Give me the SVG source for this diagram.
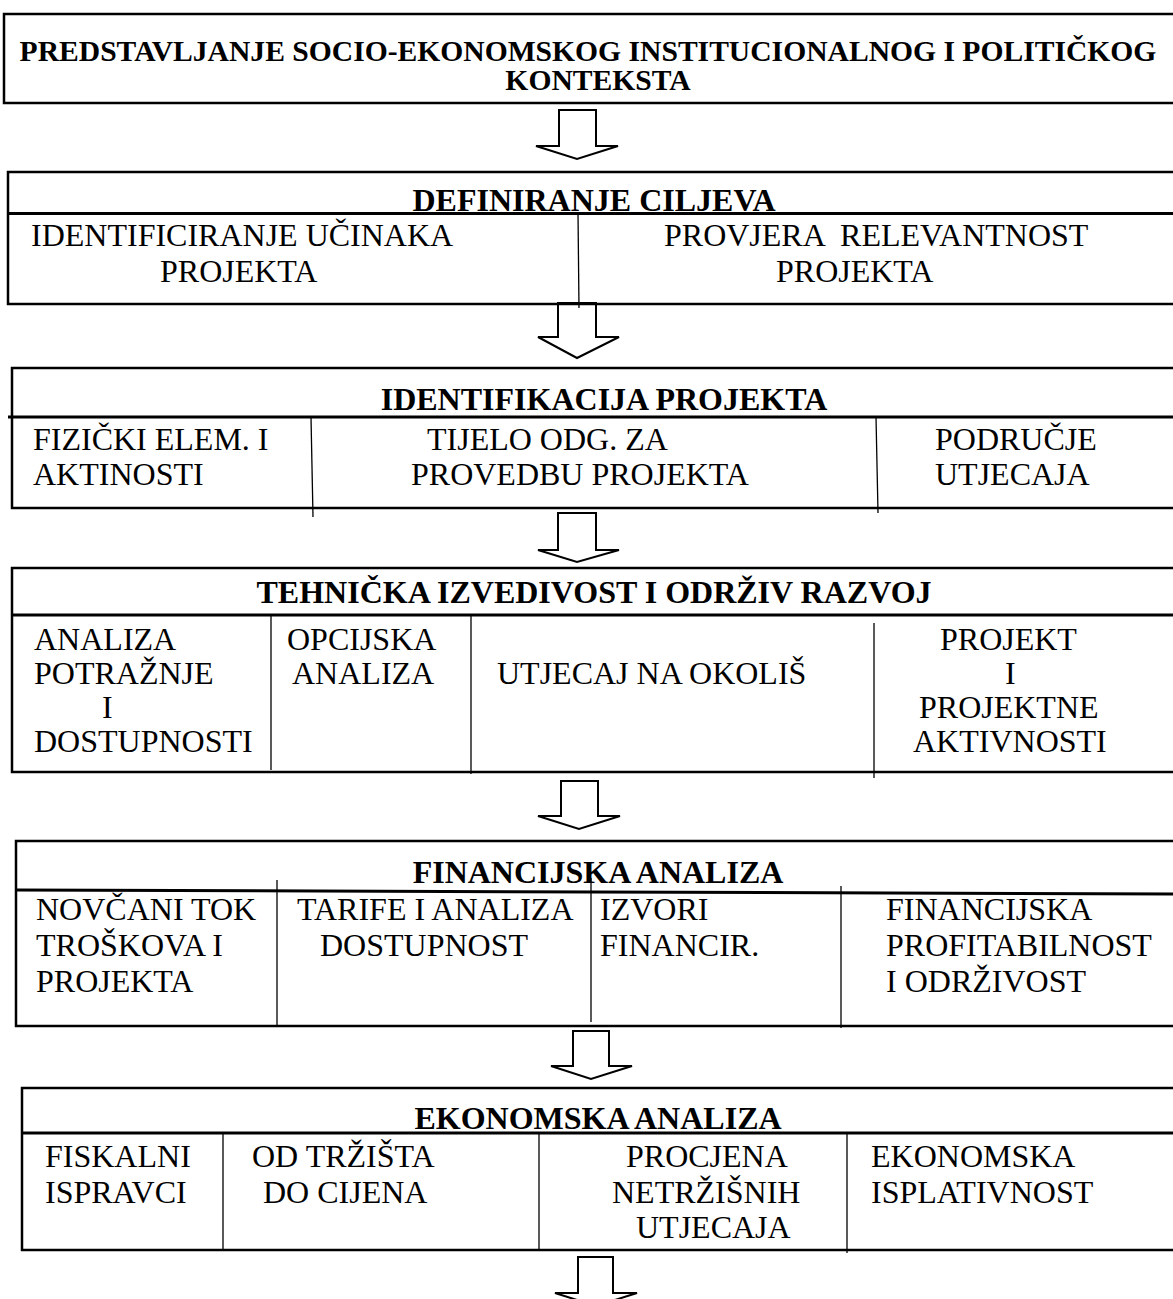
<svg xmlns="http://www.w3.org/2000/svg" width="1173" height="1299" viewBox="0 0 1173 1299">
<style>
.box{fill:none;stroke:#000;stroke-width:2.5}
.div{stroke:#000;stroke-width:3}
.vd{stroke:#000;stroke-width:1.3}
.arr{fill:#fff;stroke:#000;stroke-width:2;stroke-linejoin:miter}
text{font-family:"Liberation Serif","Times New Roman",serif;fill:#000}
.t{font-size:32px;white-space:pre}
.h{font-size:32px;font-weight:bold;text-anchor:middle}
.ti{font-size:29.6px;font-weight:bold;text-anchor:middle}
</style>
<rect width="1173" height="1299" fill="#fff"/>
<g id="connectors">
<polygon class="arr" points="559,110 596,110 596,146 618,146 577,159 536,146 559,146"/>
<polygon class="arr" points="558,303 596,303 596,337 619,337 577,358 538,337 558,337"/>
<polygon class="arr" points="558,513 596,513 596,550 619,550 577,562 538,550 558,550"/>
<polygon class="arr" points="561,781 598,781 598,816 620,816 579,829 538,816 561,816"/>
<polygon class="arr" points="573,1031 609,1031 609,1066 632,1066 591,1079 551,1066 573,1066"/>
<polygon class="arr" points="578,1257 613,1257 613,1293 637,1293 596,1306 555,1293 578,1293"/>
</g>
<g id="n1">
<rect class="box" x="4" y="14" width="1180" height="89"/>
<text class="ti" x="588" y="61">PREDSTAVLJANJE SOCIO-EKONOMSKOG INSTITUCIONALNOG I POLITIČKOG</text>
<text class="ti" x="598" y="90">KONTEKSTA</text>
</g>
<g id="n2">
<rect class="box" x="8" y="172" width="1180" height="132"/>
<text class="h" x="594" y="211">DEFINIRANJE CILJEVA</text>
<line class="div" x1="8" y1="213.5" x2="1173" y2="213.5"/>
<line class="vd" x1="578" y1="213" x2="579" y2="308"/>
<text class="t" x="31" y="246">IDENTIFICIRANJE UČINAKA</text>
<text class="t" x="160" y="282">PROJEKTA</text>
<text class="t" x="664" y="246">PROVJERA  RELEVANTNOST</text>
<text class="t" x="776" y="282">PROJEKTA</text>
</g>
<g id="n3">
<rect class="box" x="12" y="368" width="1180" height="140"/>
<text class="h" x="604" y="410">IDENTIFIKACIJA PROJEKTA</text>
<line class="div" x1="8" y1="417" x2="1173" y2="417"/>
<line class="vd" x1="311" y1="417" x2="313" y2="517"/>
<line class="vd" x1="876" y1="417" x2="878" y2="513"/>
<text class="t" x="33" y="450">FIZIČKI ELEM. I</text>
<text class="t" x="33" y="485">AKTINOSTI</text>
<text class="t" x="427" y="450">TIJELO ODG. ZA</text>
<text class="t" x="411" y="485">PROVEDBU PROJEKTA</text>
<text class="t" x="935" y="450">PODRUČJE</text>
<text class="t" x="935" y="485">UTJECAJA</text>
</g>
<g id="n4">
<rect class="box" x="12" y="568" width="1180" height="204"/>
<text class="h" x="594" y="603">TEHNIČKA IZVEDIVOST I ODRŽIV RAZVOJ</text>
<line class="div" x1="12" y1="615" x2="1173" y2="615"/>
<line class="vd" x1="271" y1="615" x2="271" y2="770"/>
<line class="vd" x1="471" y1="615" x2="471" y2="774"/>
<line class="vd" x1="874" y1="623" x2="874" y2="778"/>
<text class="t" x="34" y="650">ANALIZA</text>
<text class="t" x="34" y="684">POTRAŽNJE</text>
<text class="t" x="102" y="718">I</text>
<text class="t" x="34" y="752">DOSTUPNOSTI</text>
<text class="t" x="287" y="650">OPCIJSKA</text>
<text class="t" x="292" y="684">ANALIZA</text>
<text class="t" x="497" y="684">UTJECAJ NA OKOLIŠ</text>
<text class="t" x="940" y="650">PROJEKT</text>
<text class="t" x="1005" y="684">I</text>
<text class="t" x="919" y="718">PROJEKTNE</text>
<text class="t" x="913" y="752">AKTIVNOSTI</text>
</g>
<g id="n5">
<rect class="box" x="16" y="841" width="1180" height="185"/>
<text class="h" x="598" y="883">FINANCIJSKA ANALIZA</text>
<line class="div" x1="16" y1="890" x2="1173" y2="894"/>
<line class="vd" x1="277" y1="880" x2="277" y2="1026"/>
<line class="vd" x1="591" y1="878" x2="591" y2="1022"/>
<line class="vd" x1="841" y1="886" x2="841" y2="1028"/>
<text class="t" x="36" y="920">NOVČANI TOK</text>
<text class="t" x="36" y="956">TROŠKOVA I</text>
<text class="t" x="36" y="992">PROJEKTA</text>
<text class="t" x="297" y="920">TARIFE I ANALIZA</text>
<text class="t" x="320" y="956">DOSTUPNOST</text>
<text class="t" x="600" y="920">IZVORI</text>
<text class="t" x="600" y="956">FINANCIR.</text>
<text class="t" x="886" y="920">FINANCIJSKA</text>
<text class="t" x="886" y="956">PROFITABILNOST</text>
<text class="t" x="886" y="992">I ODRŽIVOST</text>
</g>
<g id="n6">
<rect class="box" x="22" y="1088" width="1180" height="162"/>
<text class="h" x="598" y="1129">EKONOMSKA ANALIZA</text>
<line class="div" x1="22" y1="1133" x2="1173" y2="1133"/>
<line class="vd" x1="223" y1="1133" x2="223" y2="1250"/>
<line class="vd" x1="539" y1="1133" x2="539" y2="1250"/>
<line class="vd" x1="847" y1="1133" x2="847" y2="1253"/>
<text class="t" x="45" y="1167">FISKALNI</text>
<text class="t" x="45" y="1203">ISPRAVCI</text>
<text class="t" x="252" y="1167">OD TRŽIŠTA</text>
<text class="t" x="263" y="1203">DO CIJENA</text>
<text class="t" x="626" y="1167">PROCJENA</text>
<text class="t" x="612" y="1203">NETRŽIŠNIH</text>
<text class="t" x="636" y="1238">UTJECAJA</text>
<text class="t" x="871" y="1167">EKONOMSKA</text>
<text class="t" x="871" y="1203">ISPLATIVNOST</text>
</g>
</svg>
